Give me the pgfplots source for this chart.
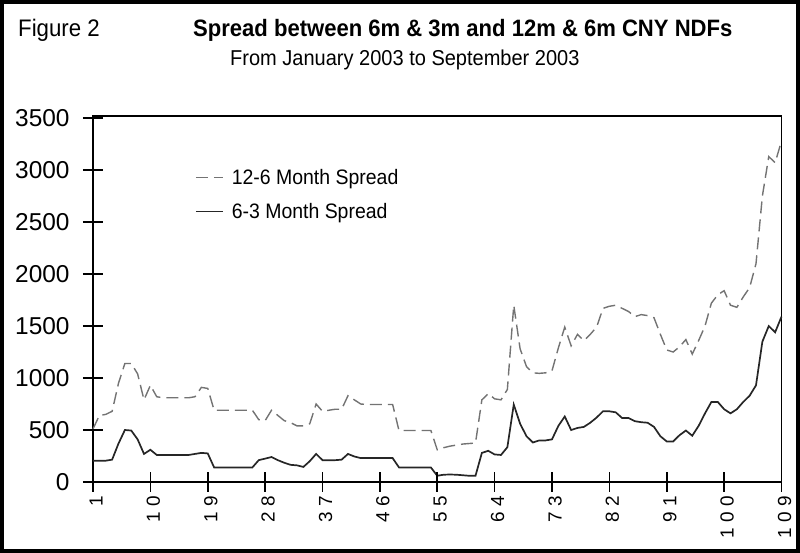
\documentclass[border=0pt]{standalone}
\usepackage{pgfplots}
\pgfplotsset{compat=1.18}
\usepackage{pgfplotstable}
\usepackage{fontspec}
\setmainfont{Liberation Sans}
\newfontfamily\condfont[FakeStretch=0.93]{Liberation Sans}
\newcommand\lsp{\kern5.5bp}
\pgfplotstableread{
x d s
1 510 205
2 640 205
3 650 205
4 680 215
5 950 370
6 1140 500
7 1140 495
8 1040 410
9 790 270
10 930 310
11 820 260
12 810 260
13 810 260
14 810 260
15 810 260
16 810 260
17 820 270
18 910 280
19 900 275
20 690 140
21 690 140
22 690 140
23 690 140
24 690 140
25 690 140
26 690 140
27 600 210
28 590 225
29 690 240
30 640 210
31 590 185
32 570 165
33 540 160
34 540 145
35 560 200
36 750 270
37 680 210
38 690 210
39 700 210
40 700 215
41 830 270
42 790 245
43 750 230
44 745 230
45 745 230
46 745 230
47 745 230
48 745 230
49 495 140
50 495 140
51 495 140
52 495 140
53 495 140
54 495 140
55 310 60
56 330 70
57 345 72
58 355 70
59 365 65
60 370 60
61 375 60
62 790 280
63 850 300
64 800 265
65 790 260
66 890 335
67 1700 745
68 1280 560
69 1110 440
70 1050 380
71 1045 400
72 1050 400
73 1070 410
74 1290 540
75 1490 630
76 1310 500
77 1420 520
78 1360 530
79 1420 570
80 1490 620
81 1670 680
82 1690 680
83 1700 670
84 1670 615
85 1640 615
86 1590 585
87 1610 575
88 1600 570
89 1580 530
90 1420 440
91 1270 390
92 1250 390
93 1300 450
94 1370 495
95 1230 445
96 1360 540
97 1500 660
98 1720 770
99 1800 770
100 1840 700
101 1700 660
102 1680 700
103 1780 770
104 1870 830
105 2100 930
106 2750 1350
107 3130 1500
108 3070 1440
109 3280 1590
}\datatable
\begin{document}
\begin{tikzpicture}
\draw[line width=4bp] (2bp,2bp) rectangle (798bp,551bp);
\node[anchor=base west, inner sep=0pt, font=\condfont\fontsize{24}{24}\selectfont] at (18bp,516bp) {Figure 2};
\node[anchor=base west, inner sep=0pt, font=\condfont\bfseries\fontsize{23.8}{24}\selectfont] at (193bp,516bp) {Spread between 6m \& 3m and 12m \& 6m CNY NDFs};
\node[anchor=base west, inner sep=0pt, font=\condfont\fontsize{21.6}{22}\selectfont] at (230bp,487bp) {From January 2003 to September 2003};
\begin{axis}[
  at={(93bp,71bp)}, anchor=south west,
  width=688.5bp, height=366bp, scale only axis,
  xmin=1, xmax=109, ymin=0, ymax=3520,
  clip=false,
  xtick={1,10,...,109},
  xticklabels={1,1\lsp0,1\lsp9,2\lsp8,3\lsp7,4\lsp6,5\lsp5,6\lsp4,7\lsp3,8\lsp2,9\lsp1,1\lsp0\lsp0,1\lsp0\lsp9},
  ytick={0,500,...,3500},
  xtick pos=bottom, ytick pos=left,
  tick align=center,
  major tick length=20bp,
  tick style={draw=none},
  axis line style={line width=1.8bp},
  /pgf/number format/assume math mode=true,
  yticklabel style={font=\fontsize{24.5}{25}\selectfont, xshift=-10bp, /pgf/number format/1000 sep={}},
  xticklabel style={rotate=90, anchor=east, yshift=-3bp, font=\fontsize{19}{19}\selectfont},
  legend style={draw=none, fill=none, at={(0.148,0.86)}, anchor=north west,
    font=\condfont\fontsize{21}{21}\selectfont, row sep=13bp, inner sep=0pt,
    /tikz/every odd column/.style={column sep=6bp}},
  legend cell align=left,
  legend image code/.code={\draw[#1] (0bp,0bp) -- (27bp,0bp);},
]
\addplot[color=black!55, line width=1.4bp, dash pattern=on 12bp off 6bp] table[x=x,y=d]{\datatable};
\addlegendentry{12-6 Month Spread}
\addplot[color=black!85, line width=1.7bp] table[x=x,y=s]{\datatable};
\addlegendentry{6-3 Month Spread}
% tick marks crossing the bottom axis (x ticks) and the left axis (y ticks)
\pgfplotsinvokeforeach{1,10,19,28,37,46,55,64,73,82,91,100,109}{
  \addplot[black, line width=1.6bp, forget plot] coordinates {(#1,-96) (#1,96)};
}
\pgfplotsinvokeforeach{0,500,1000,1500,2000,2500,3000,3500}{
  \addplot[black, line width=1.6bp, forget plot] coordinates {(-0.57,#1) (2.57,#1)};
}
\end{axis}
\end{tikzpicture}
\end{document}
